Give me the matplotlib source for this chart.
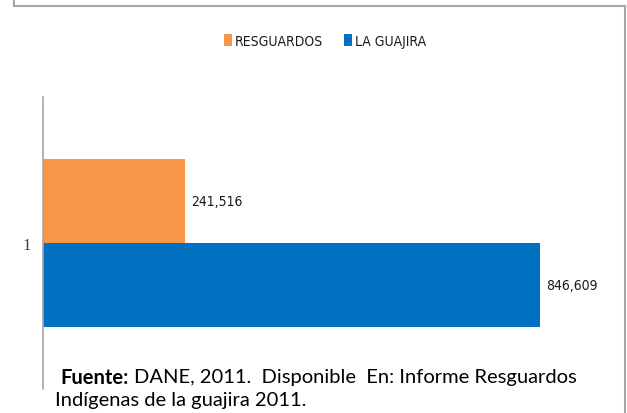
import matplotlib
matplotlib.use("Agg")
import matplotlib.pyplot as plt
from matplotlib.lines import Line2D
from matplotlib import font_manager

# data
category = ["1"]
series_names = ["RESGUARDOS", "LA GUAJIRA"]
resguardos = [241516]
la_guajira = [846609]
colors = ["#F79646", "#0070C0"]

narrow = font_manager.FontProperties(family="DejaVu Sans", stretch="condensed", size=10)

fig = plt.figure(figsize=(6.27, 4.14), dpi=100)
W, H = 627, 414

# outer gray frame
for xs, ys in [((14, 14), (0, 7)), ((14, 625), (7, 7)), ((625, 625), (7, 414))]:
    fig.add_artist(Line2D([x / W for x in xs], [1 - y / H for y in ys],
                          color="#A6A6A6", lw=1.5))

ax = fig.add_axes([43 / W, (H - 390) / H, (610 - 43) / W, (390 - 98) / H])
ax.set_facecolor("none")

h = 0.288
y0 = 1
b1 = ax.barh([y0 + h / 2], resguardos, height=h, color=colors[0], label=series_names[0])
b2 = ax.barh([y0 - h / 2], la_guajira, height=h, color=colors[1], label=series_names[1])

for bars, vals in [(b1, resguardos), (b2, la_guajira)]:
    for bar, v in zip(bars, vals):
        ax.text(bar.get_width() + 11000, bar.get_y() + bar.get_height() / 2,
                f"{v:,}", va="center", ha="left", fontproperties=narrow,
                color="#1a1a1a")

ax.set_xlim(0, 966000)
ax.set_ylim(0.5, 1.5)
ax.set_yticks([y0])
ax.set_yticklabels(category, family="Liberation Serif", fontsize=12, color="#404040")
ax.tick_params(axis="y", length=0, pad=9)
ax.set_xticks([])
for s in ["top", "right", "bottom"]:
    ax.spines[s].set_visible(False)
ax.spines["left"].set_color("#A6A6A6")
ax.spines["left"].set_linewidth(1.2)

leg = fig.legend(handles=[b1, b2], labels=series_names, loc="center",
                 bbox_to_anchor=(325 / W, 1 - 42 / H), ncol=2, frameon=False,
                 handlelength=0.6, handleheight=0.9, handletextpad=0.2,
                 columnspacing=1.5, prop=narrow)
for t in leg.get_texts():
    t.set_color("#1a1a1a")

# source note
fs = 14.5
fig.canvas.draw()
r = fig.canvas.get_renderer()
t1 = fig.text(60 / W, 1 - 378 / H, "Fuente:", fontsize=fs, fontweight="bold",
              family="Lato", va="center", color="black")
bb = t1.get_window_extent(r)
fig.text((bb.x1 + 6) / W, 1 - 378 / H, "DANE, 2011.  Disponible  En: Informe Resguardos",
         fontsize=fs, family="Lato", va="center", color="black")
fig.text(55 / W, 1 - 401 / H, "Indígenas de la guajira 2011.",
         fontsize=fs, family="Lato", va="center", color="black")

fig.savefig("out.png", dpi=100)
